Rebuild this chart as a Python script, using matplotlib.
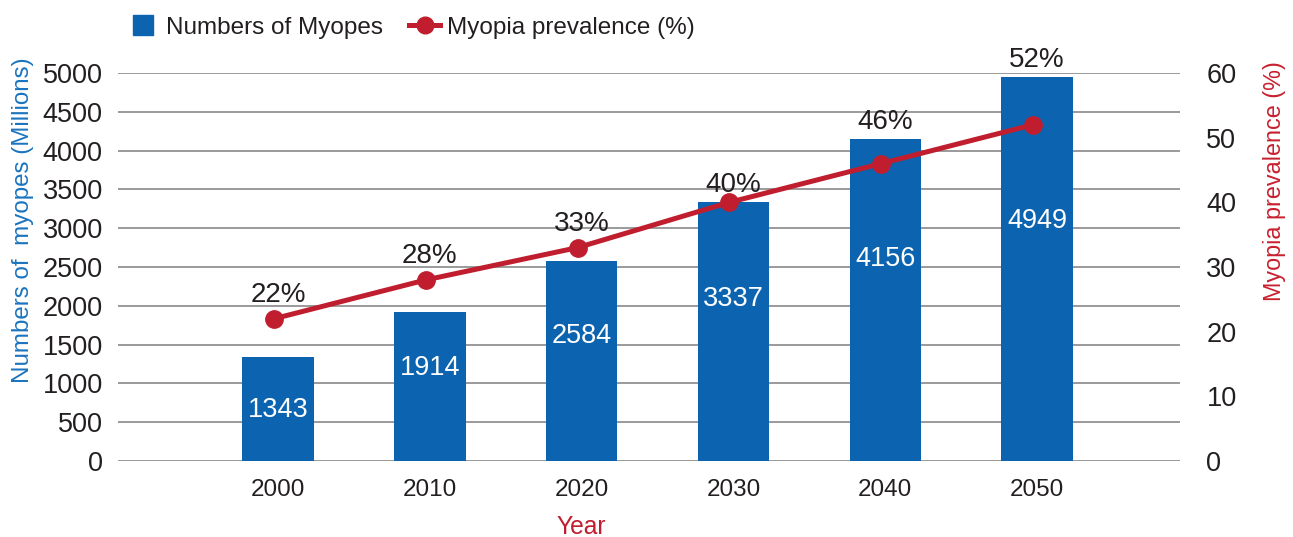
import numpy as np
import matplotlib.pyplot as plt
from matplotlib.lines import Line2D

plt.rcParams['font.family'] = ['Liberation Sans', 'DejaVu Sans']

# data
years = ['2000', '2010', '2020', '2030', '2040', '2050']
myopes = [1343, 1914, 2584, 3337, 4156, 4949]
prevalence = [22, 28, 33, 40, 46, 52]
pct_labels = ['22%', '28%', '33%', '40%', '46%', '52%']

bar_color = '#0c64b0'
line_color = '#c01e2e'
text_color = '#231f20'
grid_color = '#929292'

fig = plt.figure(figsize=(12.93, 5.37), dpi=100)
ax = fig.add_axes([0.0913, 0.1415, 0.8213, 0.7225])
ax2 = ax.twinx()

x = np.arange(len(years))

# bars with white value labels inside (placed in the upper part of the bar)
ax.bar(x, myopes, width=0.47, color=bar_color, zorder=2)
for xi, v in zip(x, myopes):
    ly = min(0.625 * v, v - 690)
    ax.text(xi, ly, str(v), ha='center', va='center',
            color='white', fontsize=19.5, zorder=3)

ax.set_ylim(0, 5000)
ax.set_yticks(np.arange(0, 5001, 500))
ax.set_xlim(-1.054, 5.942)
ax.set_xticks(x)
ax.set_xticklabels(years)
ax.grid(axis='y', color=grid_color, lw=1.3, zorder=0)
ax.set_axisbelow(True)
for s in ax.spines.values():
    s.set_visible(False)
for s in ax2.spines.values():
    s.set_visible(False)
ax.tick_params(axis='y', length=0, pad=11, labelsize=19.5, labelcolor=text_color)
ax.tick_params(axis='x', length=0, pad=13, labelsize=17.5, labelcolor=text_color)
ax.set_ylabel('Numbers of  myopes (Millions)', color='#1b74bf', fontsize=17.4, labelpad=6)
ax.yaxis.label.set_y(0.621)
ax.set_xlabel('Year', color=line_color, fontsize=17.7, labelpad=10)
ax.xaxis.label.set_x(0.436)

# prevalence line on right axis
ax2.plot(x - 0.027, prevalence, color=line_color, lw=3.6, marker='o',
         markersize=12.5, zorder=4, solid_capstyle='round')
ax2.set_ylim(0, 60)
ax2.set_yticks(np.arange(0, 61, 10))
ax2.tick_params(axis='y', length=0, pad=19, labelsize=19.5, labelcolor=text_color)
ax2.set_ylabel('Myopia prevalence (%)', color='#c8202f', fontsize=16.8, labelpad=19)
ax2.yaxis.label.set_y(0.722)

# percentage labels above the higher of bar top / point
for xi, p, v, lab in zip(x, prevalence, myopes, pct_labels):
    bar_top = v * 60 / 5000
    if bar_top > p:
        anchor, off = bar_top, 12
    else:
        anchor, off = p, 17
    ax2.annotate(lab, (xi, anchor), xytext=(0, off), textcoords='offset points',
                 ha='center', va='center', fontsize=20, color=text_color,
                 annotation_clip=False)

handles = [
    Line2D([], [], marker='s', linestyle='none', markersize=14.5, color=bar_color),
    Line2D([], [], marker='o', color=line_color, lw=3.6, markersize=12),
]
fig.legend(handles, ['Numbers of Myopes', 'Myopia prevalence (%)'],
           loc='center left', bbox_to_anchor=(128 / 1293, 1 - 28 / 537),
           ncol=2, frameon=False, fontsize=17.5, borderpad=0, borderaxespad=0,
           handlelength=1.25, handletextpad=0.3, columnspacing=1.1,
           labelcolor=text_color)

fig.savefig('out.png', dpi=100)
